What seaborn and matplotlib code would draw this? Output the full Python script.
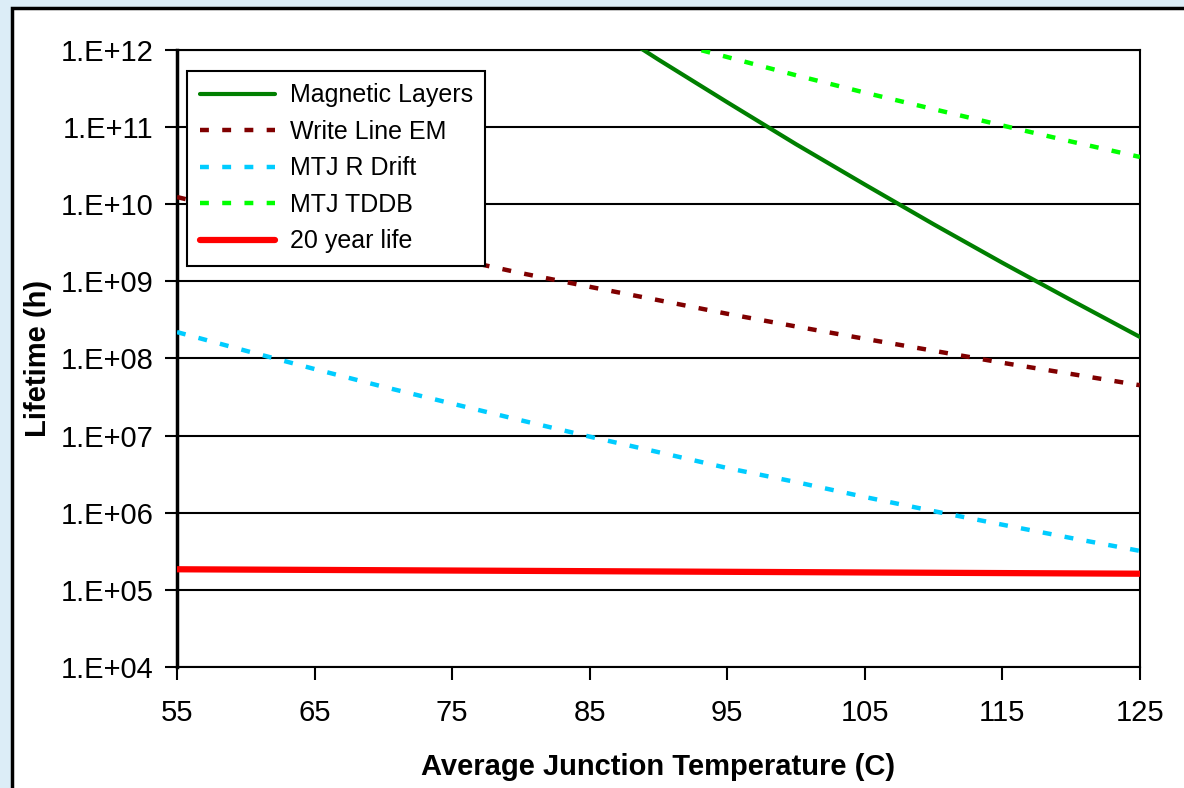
import matplotlib
matplotlib.use("Agg")
import matplotlib.pyplot as plt
import matplotlib.ticker as mticker
from matplotlib.patches import Rectangle
import pandas as pd
import seaborn as sns

# Values (lifetime in hours)
temps_magnetic = [85, 90, 95, 100, 105, 110, 115, 120, 125]
magnetic_layers = [2.8e12, 7.5e11, 2.1e11, 6.0e10, 1.8e10, 5.5e9, 1.74e9, 5.7e8, 1.9e8]

temps_all = [55, 60, 65, 70, 75, 80, 85, 90, 95, 100, 105, 110, 115, 120, 125]
write_line_em = [1.24e10, 7.6e9, 4.8e9, 3.0e9, 2.0e9, 1.28e9, 8.5e8, 5.7e8, 3.8e8,
                 2.6e8, 1.8e8, 1.26e8, 8.8e7, 6.3e7, 4.5e7]
mtj_r_drift = [2.2e8, 1.26e8, 7.3e7, 4.3e7, 2.6e7, 1.58e7, 9.7e6, 6.1e6, 3.8e6,
               2.5e6, 1.6e6, 1.05e6, 7.0e5, 4.7e5, 3.2e5]

temps_tddb = [90, 95, 100, 105, 110, 115, 120, 125]
mtj_tddb = [1.39e12, 8.1e11, 4.7e11, 2.8e11, 1.71e11, 1.05e11, 6.5e10, 4.1e10]

temps_life = [55, 125]
twenty_year_life = [1.85e5, 1.62e5]

x_ticks = [55, 65, 75, 85, 95, 105, 115, 125]
y_exps = [4, 5, 6, 7, 8, 9, 10, 11, 12]

sns.set_style("white")
plt.rcParams['font.family'] = ['Liberation Sans', 'DejaVu Sans']
plt.rcParams['text.color'] = 'black'
plt.rcParams['axes.labelcolor'] = 'black'
plt.rcParams['xtick.color'] = 'black'
plt.rcParams['ytick.color'] = 'black'

fig = plt.figure(figsize=(11.84, 7.88), dpi=100)
fig.patch.set_facecolor("#dcedf7")
# white panel with black border, running off the right and bottom edges
panel = Rectangle((12 / 1184, -0.05), 1.1, 1.05 - 8 / 788,
                  transform=fig.transFigure, facecolor="white",
                  edgecolor="black", linewidth=2.5, zorder=-10)
fig.add_artist(panel)

ax = fig.add_axes([177 / 1184, 1 - 667 / 788, 963 / 1184, 617 / 788])
ax.set_facecolor("white")

dash = (0, (2.0, 3.0))
series = [
    ("Magnetic Layers", temps_magnetic, magnetic_layers, "#007f00", 3.0, "-"),
    ("Write Line EM", temps_all, write_line_em, "#800000", 3.2, dash),
    ("MTJ R Drift", temps_all, mtj_r_drift, "#00ccff", 3.2, dash),
    ("MTJ TDDB", temps_tddb, mtj_tddb, "#00ff00", 3.2, dash),
    ("20 year life", temps_life, twenty_year_life, "#ff0000", 4.5, "-"),
]
for name, t, v, col, lw, ls in series:
    df = pd.DataFrame({"temp": t, "life": v})
    sns.lineplot(data=df, x="temp", y="life", ax=ax, color=col, linewidth=lw,
                 linestyle=ls, label=name, zorder=3)

ax.set_yscale("log")
ax.set_xlim(55, 125)
ax.set_ylim(1e4, 1e12)
ax.set_xticks(x_ticks)
ax.set_xticklabels([str(t) for t in x_ticks])
ax.set_yticks([10.0 ** e for e in y_exps])
ax.set_yticklabels(["1.E+%02d" % e for e in y_exps])
ax.yaxis.set_minor_locator(mticker.NullLocator())
ax.tick_params(axis="y", direction="out", length=9, width=1.5, pad=8,
               labelsize=21, left=True)
ax.tick_params(axis="x", direction="out", length=9, width=1.5, pad=14,
               labelsize=21, bottom=True)

ax.grid(axis="y", color="black", linewidth=1.5)
ax.set_axisbelow(True)
for s in ax.spines.values():
    s.set_color("black")
    s.set_linewidth(1.5)
ax.spines["left"].set_linewidth(2.5)

ax.set_xlabel("Average Junction Temperature (C)", fontsize=21, fontweight="bold",
              labelpad=19)
ax.set_ylabel("Lifetime (h)", fontsize=21, fontweight="bold", labelpad=6)

leg = ax.legend(loc="upper left", bbox_to_anchor=(0.0104, 0.966), borderaxespad=0,
                fontsize=18, handlelength=3.0, labelspacing=0.5, handletextpad=0.6,
                fancybox=False, frameon=True, framealpha=1, borderpad=0.5)
leg.get_frame().set_edgecolor("black")
leg.get_frame().set_linewidth(1.5)

fig.savefig("out.png", dpi=100, facecolor=fig.get_facecolor())
